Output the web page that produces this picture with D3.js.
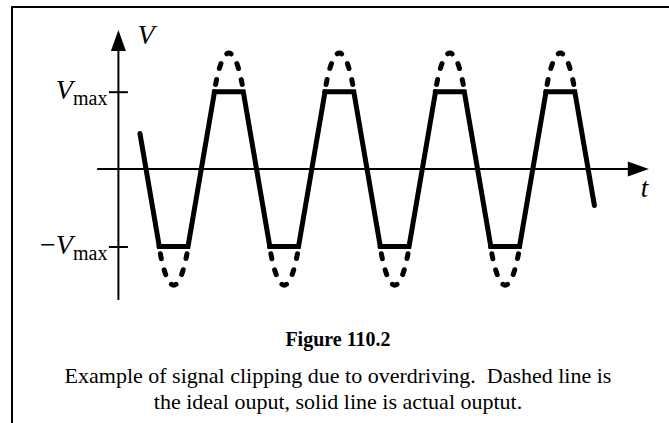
<!DOCTYPE html>
<html>
<head>
<meta charset="utf-8">
<script src="https://cdn.jsdelivr.net/npm/d3@7"></script>
<style>
  html, body { margin: 0; padding: 0; background: #fff; }
  svg { display: block; }
</style>
</head>
<body>
<svg id="fig" width="669" height="423"></svg>
<script>
// Clipped (actual) output: vertices of the trace. t in quarter periods, v in units of Vmax.
const solidT = [-2.22, -1.52, -0.48, 0.48, 1.52, 2.48, 3.52, 4.48, 5.52, 6.48, 7.52, 8.48, 9.52, 10.48, 11.52, 12.48, 13.52, 14.23];
const solidV = [0.46, -1, -1, 1, 1, -1, -1, 1, 1, -1, -1, 1, 1, -1, -1, 1, 1, -0.47];

// Ideal output beyond the clip level: centres of the lost crests/troughs and their sign
const crestT = [-1, 1, 3, 5, 7, 9, 11, 13];
const crestSign = [-1, 1, -1, 1, -1, 1, -1, 1];

// Profile of one lost crest: offset from its centre and height (Vmax units)
const arcDT = [-0.53, -0.4, -0.22, 0, 0.22, 0.4, 0.53];
const arcV = [1.0, 1.23, 1.42, 1.5, 1.42, 1.23, 1.0];

// Axis ticks and labels
const tickValues = [1, -1];
const tickPrefix = ["", "\u2212"];
const tickMain = ["V", "V"];
const tickSub = ["max", "max"];
const axisLabelV = "V";
const axisLabelT = "t";

// Caption
const captionTitle = "Figure 110.2";
const captionLines = [
  "Example of signal clipping due to overdriving.  Dashed line is",
  "the ideal ouput, solid line is actual ouptut."
];

const svg = d3.select("#fig");
const serif = "'Liberation Serif', 'Times New Roman', Times, serif";

const x = d3.scaleLinear().domain([-3, 16]).range([118.4, 643.3]);
const y = d3.scaleLinear().domain([-1, 1]).range([246.5, 91.7]);

// Frame (left and top edges)
svg.append("path")
  .attr("d", "M12,430 L12,7 L680,7")
  .attr("fill", "none")
  .attr("stroke", "#000")
  .attr("stroke-width", 2);

// Axis extents (data units)
const vTop = 1.797, vBottom = -1.69;
const tLeft = -3.77, tRight = 16.2;
const headLen = 21, headHalf = 7.5;

const axes = svg.append("g").attr("stroke", "#000").attr("fill", "#000");

// vertical axis with arrow
const x0 = x(-3);
axes.append("line")
  .attr("x1", x0).attr("x2", x0)
  .attr("y1", y(vBottom)).attr("y2", y(vTop) + headLen - 2)
  .attr("stroke-width", 2);
axes.append("path")
  .attr("stroke", "none")
  .attr("d", `M${x0},${y(vTop)} L${x0 - headHalf},${y(vTop) + headLen} L${x0 + headHalf},${y(vTop) + headLen} Z`);

// horizontal axis with arrow
const y0 = y(0);
axes.append("line")
  .attr("x1", x(tLeft)).attr("x2", x(tRight) - headLen + 2)
  .attr("y1", y0).attr("y2", y0)
  .attr("stroke-width", 2);
axes.append("path")
  .attr("stroke", "none")
  .attr("d", `M${x(tRight)},${y0} L${x(tRight) - headLen},${y0 - headHalf} L${x(tRight) - headLen},${y0 + headHalf} Z`);

// ticks at ±Vmax
const yAxis = d3.axisLeft(y).tickValues(tickValues).tickFormat("").tickSizeInner(9.5).tickSizeOuter(0);
const gy = svg.append("g").attr("transform", `translate(${x0},0)`).call(yAxis);
gy.select(".domain").remove();
gy.selectAll(".tick line")
  .attr("x1", -9.5).attr("x2", 9.5)
  .attr("stroke", "#000").attr("stroke-width", 2);

// tick labels
tickValues.forEach((v, i) => {
  const t = svg.append("text")
    .attr("x", x0 - 11)
    .attr("y", y(v) + 7)
    .attr("text-anchor", "end")
    .attr("font-family", serif)
    .attr("fill", "#000");
  if (tickPrefix[i]) t.append("tspan").attr("font-size", 28).text(tickPrefix[i]);
  t.append("tspan").attr("font-size", 28).attr("font-style", "italic").text(tickMain[i]);
  t.append("tspan").attr("font-size", 20).attr("dy", 6).text(tickSub[i]);
});

// axis names
svg.append("text")
  .attr("x", x0 + 19).attr("y", y(vTop) + 14)
  .attr("font-family", serif).attr("font-style", "italic").attr("font-size", 28)
  .text(axisLabelV);
svg.append("text")
  .attr("x", x(tRight) - 8).attr("y", y0 + 28)
  .attr("font-family", serif).attr("font-style", "italic").attr("font-size", 27)
  .text(axisLabelT);

// ideal output: dashed crests beyond the clip level
const arcLine = d3.line().x(d => x(d[0])).y(d => y(d[1])).curve(d3.curveNatural);
const dashLen = 5, gapLen = 11.5, nDash = 5;
crestT.forEach((tc, i) => {
  const pts = arcDT.map((dt, k) => [tc + dt, crestSign[i] * arcV[k]]);
  const p = svg.append("path")
    .attr("d", arcLine(pts))
    .attr("fill", "none")
    .attr("stroke", "#000")
    .attr("stroke-width", 5)
    .attr("stroke-linecap", "round");
  const L = p.node().getTotalLength();
  const lead = (L - nDash * dashLen - (nDash - 1) * gapLen) / 2;
  p.attr("stroke-dasharray", `0 ${lead} ${Array(nDash).fill(`${dashLen} ${gapLen}`).join(" ")} 0 ${L}`);
});

// actual output: clipped trace
const solidLine = d3.line().x(d => x(d[0])).y(d => y(d[1]));
svg.append("path")
  .attr("d", solidLine(solidT.map((t, i) => [t, solidV[i]])))
  .attr("fill", "none")
  .attr("stroke", "#000")
  .attr("stroke-width", 5)
  .attr("stroke-linejoin", "miter")
  .attr("stroke-linecap", "round");

// caption
const cx = 338;
svg.append("text")
  .attr("x", cx).attr("y", 346)
  .attr("text-anchor", "middle")
  .attr("font-family", serif).attr("font-weight", "bold").attr("font-size", 20)
  .text(captionTitle);
captionLines.forEach((s, i) => {
  svg.append("text")
    .attr("x", cx).attr("y", 383 + i * 26)
    .attr("text-anchor", "middle")
    .attr("font-family", serif).attr("font-size", 22)
    .style("white-space", "pre")
    .text(s);
});
</script>
</body>
</html>
